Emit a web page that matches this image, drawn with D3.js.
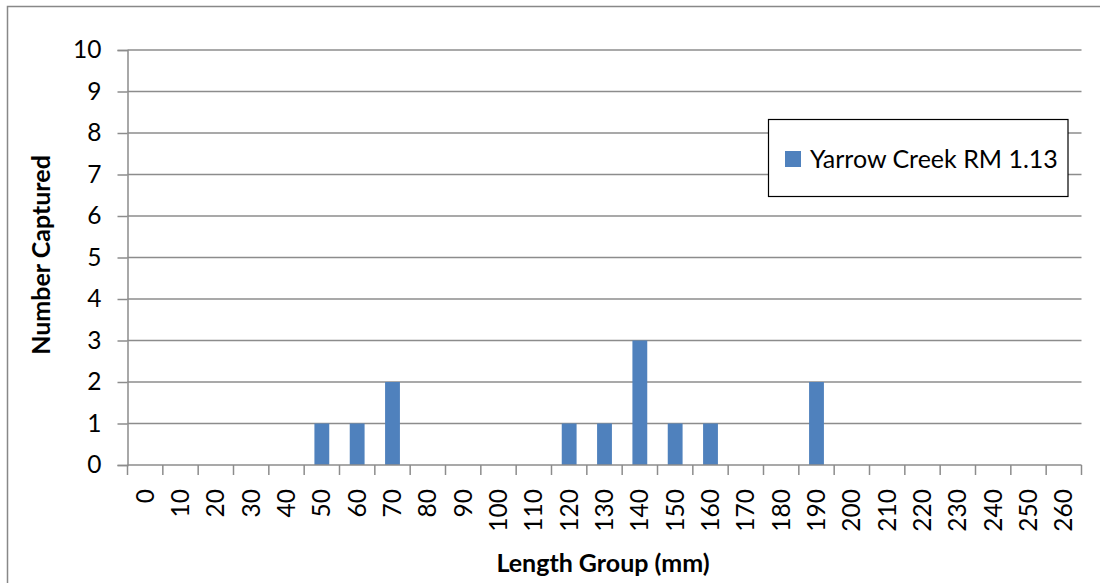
<!DOCTYPE html>
<html><head><meta charset="utf-8">
<script src="https://cdn.jsdelivr.net/npm/d3@7"></script>
<style>body{margin:0;background:#fff}svg{display:block}</style>
</head><body>
<svg id="c" width="1100" height="583"></svg>
<script>
const categories = ["0","10","20","30","40","50","60","70","80","90","100","110","120","130","140","150","160","170","180","190","200","210","220","230","240","250","260"];
const values = [0,0,0,0,0,1,1,2,0,0,0,0,1,1,3,1,1,0,0,2,0,0,0,0,0,0,0];
const yTicks = [0,1,2,3,4,5,6,7,8,9,10];
const seriesName = "Yarrow Creek RM 1.13";

const svg = d3.select("#c");
const font = "Lato, 'Open Sans', sans-serif";
const grid = "#8c8c8c";
const L = 127.5, R = 1081.5, T = 50, B = 465;

// outer border
svg.append("path").attr("d","M7.5,583 L7.5,6.5 L1100,6.5").attr("fill","none").attr("stroke","#888").attr("stroke-width",1.5);

const x = d3.scaleBand().domain(categories).range([L,R]).paddingInner(0.58).paddingOuter(0.29);
const y = d3.scaleLinear().domain([0,10]).range([B,T]);

// gridlines
svg.append("g").selectAll("line").data(yTicks.filter(d=>d>0)).join("line")
  .attr("x1",L).attr("x2",R).attr("y1",d=>y(d)).attr("y2",d=>y(d))
  .attr("stroke",grid).attr("stroke-width",1.5);

// y axis
const yAxis = svg.append("g").attr("transform",`translate(${L},0)`)
  .call(d3.axisLeft(y).tickValues(yTicks).tickSize(10).tickPadding(16).tickFormat(d3.format("d")));
yAxis.select(".domain").attr("stroke",grid).attr("stroke-width",1.5);
yAxis.selectAll(".tick line").attr("stroke",grid).attr("stroke-width",1.5);
yAxis.selectAll("text").attr("font-family",font).attr("font-size",24.5).attr("fill","#000");

// bars
svg.append("g").selectAll("rect").data(categories.map((c,i)=>({c,v:values[i]}))).join("rect")
  .attr("x",d=>x(d.c)).attr("width",x.bandwidth())
  .attr("y",d=>y(d.v)).attr("height",d=>B-y(d.v))
  .attr("fill","#4F81BD");

// x axis
const step = (R-L)/categories.length;
const xg = svg.append("g");
xg.append("line").attr("x1",L).attr("x2",R).attr("y1",B).attr("y2",B).attr("stroke",grid).attr("stroke-width",1.5);
xg.selectAll("line.t").data(d3.range(categories.length+1)).join("line").attr("class","t")
  .attr("x1",i=>L+i*step).attr("x2",i=>L+i*step).attr("y1",B).attr("y2",B+10)
  .attr("stroke",grid).attr("stroke-width",1.5);
xg.selectAll("text").data(categories).join("text")
  .attr("transform",d=>`translate(${x(d)+x.bandwidth()/2+8.5},489) rotate(-90)`)
  .attr("text-anchor","end").attr("font-family",font).attr("font-size",24.5).attr("fill","#000")
  .text(d=>d);

// axis titles
svg.append("text").attr("transform","translate(50,255) rotate(-90)").attr("text-anchor","middle")
  .attr("font-family",font).attr("font-weight","bold").attr("font-size",25).text("Number Captured");
svg.append("text").attr("x",603).attr("y",572).attr("text-anchor","middle")
  .attr("font-family",font).attr("font-weight","bold").attr("font-size",25).text("Length Group (mm)");

// legend
const lg = svg.append("g");
lg.append("rect").attr("x",768.5).attr("y",119.5).attr("width",299.5).attr("height",77).attr("fill","#fff").attr("stroke","#000").attr("stroke-width",1.2);
lg.append("rect").attr("x",785).attr("y",151).attr("width",16).attr("height",16).attr("fill","#4F81BD");
lg.append("text").attr("x",810).attr("y",168).attr("font-family",font).attr("font-size",25).attr("fill","#000").text(seriesName);
</script>
</body></html>
